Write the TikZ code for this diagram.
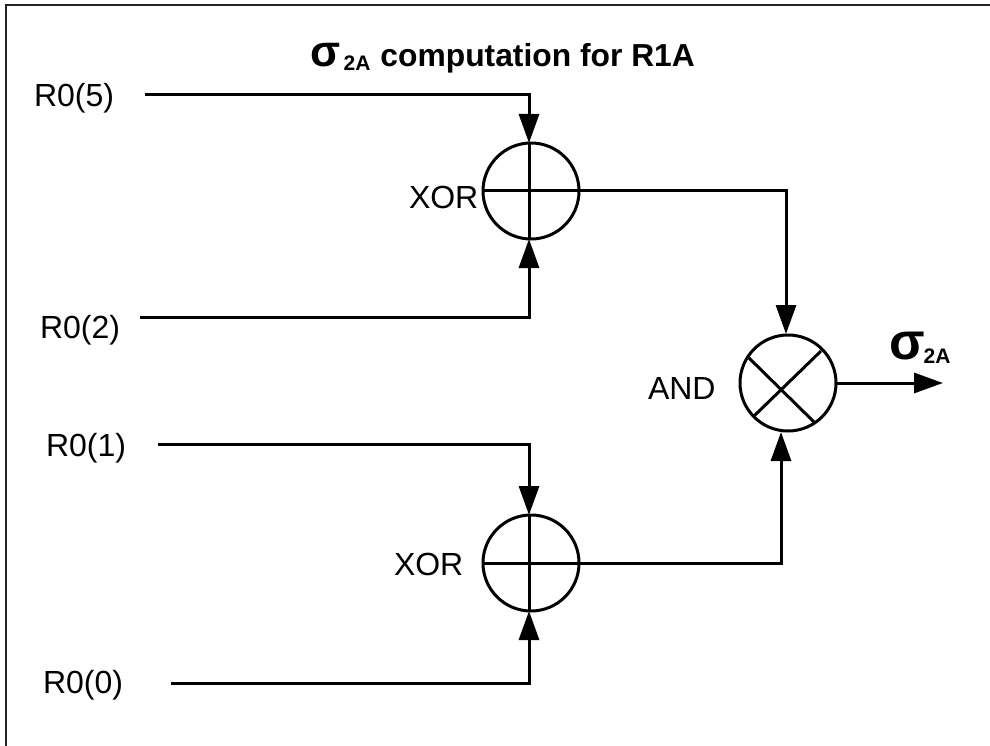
\documentclass[tikz,border=0pt]{standalone}
\usepackage{fontspec}
\setmainfont{Liberation Sans}
\usetikzlibrary{arrows.meta}
\tikzset{
  wire/.style={line width=3pt,line cap=butt,line join=miter},
  arrowwire/.style={wire,-{Triangle[length=29pt,width=20pt]}},
  gate/.style={circle,draw,line width=3pt,minimum size=96pt,inner sep=0pt,outer sep=0pt},
  lbl/.style={inner sep=0pt,outer sep=0pt,font=\fontsize{32}{34}\selectfont},
  ttl/.style={inner sep=0pt,outer sep=0pt,font=\fontsize{31.8}{34}\selectfont\bfseries},
  inner/.style={line width=3pt}
}
\newcommand{\sigmatwo}[3]{{\fontsize{#1}{#1}\selectfont\bfseries σ}\hspace{#3}\raisebox{-4pt}{\fontsize{#2}{#2}\selectfont\bfseries 2A}}
\begin{document}
\begin{tikzpicture}[x=1pt,y=-1pt]
\useasboundingbox (0,0) rectangle (990,746);
\fill[white] (0,0) rectangle (990,746);
\draw[line width=2pt,color=black!85] (6,746) -- (6,5) -- (990,5);
% gates
\node[gate] (xa) at (531,191) {};
\node[gate] (xb) at (531,563) {};
\node[gate] (an) at (788,383) {};
% gate interior
\coordinate (xatop) at (529,143); \coordinate (xabot) at (529,239);
\coordinate (xbtop) at (529,515); \coordinate (xbbot) at (529,611);
\coordinate (antop) at (786,334); \coordinate (anbot) at (781,432);
\coordinate (anout) at (943,383);
\draw[inner] (xatop) -- (xabot);
\draw[inner] (xa.west) -- (xa.east);
\draw[inner] (xbtop) -- (xbbot);
\draw[inner] (xb.west) -- (xb.east);
\coordinate (c1) at (748,357); \coordinate (c2) at (814,422);
\coordinate (c3) at (821,351); \coordinate (c4) at (754,416);
\draw[inner] (c1) -- (c2);
\draw[inner] (c3) -- (c4);
% inputs
\coordinate (i5) at (145,95);
\coordinate (i2) at (140,317);
\coordinate (i1) at (158,444);
\coordinate (i0) at (171,683);
\node[lbl,anchor=base west] (l5) at (34,107) {R0(5)};
\node[lbl,anchor=base west] (l2) at (40,338) {R0(2)};
\node[lbl,anchor=base west] (l1) at (46,456) {R0(1)};
\node[lbl,anchor=base west] (l0) at (43,693) {R0(0)};
\draw[arrowwire] (i5) -| (xatop);
\draw[arrowwire] (i2) -| (xabot);
\draw[arrowwire] (i1) -| (xbtop);
\draw[arrowwire] (i0) -| (xbbot);
\draw[arrowwire] (xa.east) -| (antop);
\draw[arrowwire] (xb.east) -| (anbot);
\draw[arrowwire] (an.east) -- (anout);
% labels
\node[lbl,anchor=base west] (xl1) at (409,208) {XOR};
\node[lbl,anchor=base west] (xl2) at (394,575) {XOR};
\node[lbl,anchor=base west] (al) at (648,399) {AND};
\node[ttl,anchor=base west] (title) at (310.5,66.5) {\sigmatwo{44}{21}{3pt}\hspace{10pt}computation for R1A};
\node[ttl,anchor=base west] (sg) at (889,359) {\sigmatwo{52}{21}{-1pt}};
\end{tikzpicture}
\end{document}
